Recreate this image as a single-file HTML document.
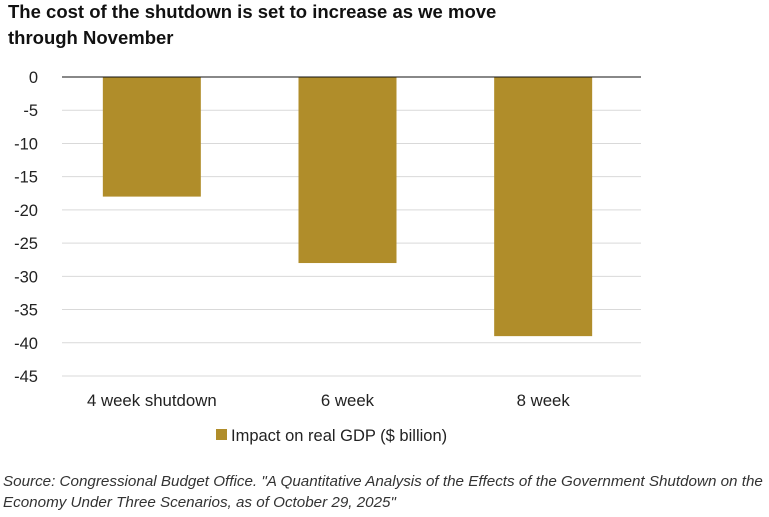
<!DOCTYPE html>
<html><head><meta charset="utf-8"><style>
body{margin:0;background:#fff;width:769px;height:512px;overflow:hidden;font-family:"Liberation Sans",Arial,sans-serif;}
</style></head><body>
<svg width="769" height="512" xmlns="http://www.w3.org/2000/svg">
<text x="8" y="18" font-size="18.5" font-weight="bold" fill="#111">The cost of the shutdown is set to increase as we move</text>
<text x="8" y="44" font-size="18.5" font-weight="bold" fill="#111">through November</text>
<g id="grid"></g><g id="bars"></g><g id="axis"></g>
<rect x="216" y="429" width="11" height="11" fill="#B08D2A"/>
<text x="231" y="441" font-size="16.5" fill="#222">Impact on real GDP ($ billion)</text>
<text x="3" y="486" font-size="15.2" font-style="italic" fill="#333">Source: Congressional Budget Office. "A Quantitative Analysis of the Effects of the Government Shutdown on the</text>
<text x="3" y="507" font-size="15.2" font-style="italic" fill="#333">Economy Under Three Scenarios, as of October 29, 2025"</text>
</svg>
<script>
const categories=["4 week shutdown","6 week","8 week"];
const values=[-18,-28,-39];
const yTicks=[0,-5,-10,-15,-20,-25,-30,-35,-40,-45];
const NS="http://www.w3.org/2000/svg";
const x0=54,x1=641,y0=77,yPer=299/45;
const y=v=>y0-v*yPer;
const band=(x1-x0)/categories.length;
const xc=i=>x0+band*(i+0.5);
function mk(t,a,p){const e=document.createElementNS(NS,t);for(const k in a)e.setAttribute(k,a[k]);p.appendChild(e);return e;}
const grid=document.getElementById('grid'),bars=document.getElementById('bars'),axis=document.getElementById('axis');
yTicks.forEach(t=>{
 if(t!==0){const l=mk('line',{x1:62,x2:x1,y1:y(t),y2:y(t),stroke:'#d9d9d9','stroke-width':1},grid);
 
 }
 const tx=mk('text',{x:38,y:y(t)+6,'font-size':16.5,fill:'#222','text-anchor':'end'},axis);tx.textContent=t;
 
 
});
values.forEach((v,i)=>{
 const r=mk('rect',{x:xc(i)-49,y:y(0),width:98,height:y(v)-y(0),fill:'#B08D2A'},bars);
 
 
 const tx=mk('text',{x:xc(i),y:406,'font-size':16.8,fill:'#222','text-anchor':'middle'},axis);tx.textContent=categories[i];
 
 
});
const z=mk('line',{x1:62,x2:x1,y1:y(0),y2:y(0),stroke:'#111','stroke-width':1},axis);


</script>
</body></html>
